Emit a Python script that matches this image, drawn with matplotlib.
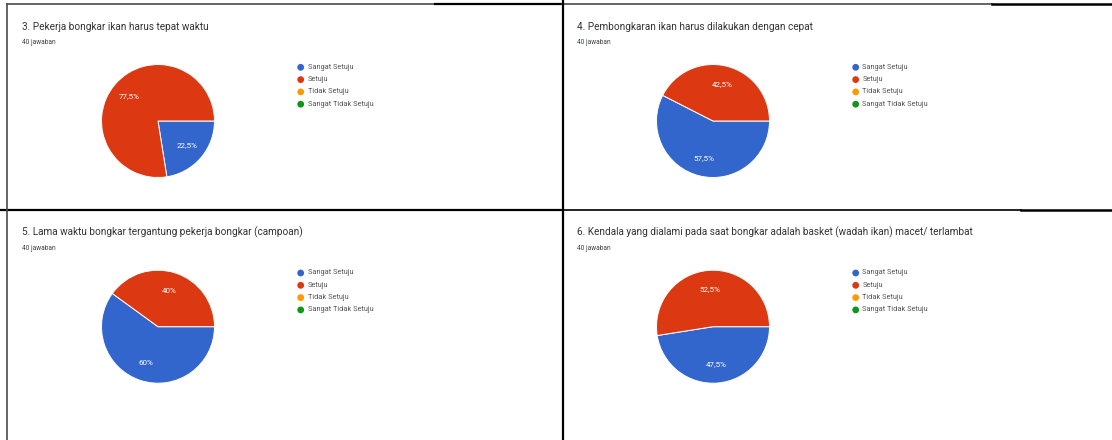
import matplotlib
matplotlib.use('Agg')
import matplotlib.pyplot as plt

plt.rcParams['font.family'] = ['Roboto', 'DejaVu Sans']

# canvas size in pixels (dpi 100)
W, H = 1112, 440

categories = ['Sangat Setuju', 'Setuju', 'Tidak Setuju', 'Sangat Tidak Setuju']
colors = ['#3366CC', '#DC3912', '#FF9900', '#109618']

questions = [
    '3. Pekerja bongkar ikan harus tepat waktu',
    '4. Pembongkaran ikan harus dilakukan dengan cepat',
    '5. Lama waktu bongkar tergantung pekerja bongkar (campoan)',
    '6. Kendala yang dialami pada saat bongkar adalah basket (wadah ikan) macet/ terlambat',
]
responses = 40

# percentages per answer, same order as categories
q3_pct = [22.5, 77.5, 0, 0]
q4_pct = [57.5, 42.5, 0, 0]
q5_pct = [60, 40, 0, 0]
q6_pct = [47.5, 52.5, 0, 0]
all_pct = [q3_pct, q4_pct, q5_pct, q6_pct]

# top-left corner of each card
origins = [(7, 4.3), (562, 4.3), (7, 210), (562, 210)]


def pct_label(p):
    s = f'{p:.1f}'.rstrip('0').rstrip('.')
    return s.replace('.', ',') + '%'


fig = plt.figure(figsize=(W / 100, H / 100), dpi=100)
fig.patch.set_facecolor('white')

bg = fig.add_axes([0, 0, 1, 1])
bg.set_xlim(0, W)
bg.set_ylim(H, 0)
bg.axis('off')

# card borders
gray, black = '#4a4a4a', '#000000'
bg.plot([7, 435], [4.3, 4.3], color=gray, lw=1.2)
bg.plot([435, 562], [4.3, 4.3], color=black, lw=1.6)
bg.plot([562, 992], [4.3, 4.3], color=gray, lw=1.2)
bg.plot([992, W], [4.3, 4.3], color=black, lw=1.8)
bg.plot([0, 562], [210, 210], color=black, lw=1.6)
bg.plot([562, 1021], [210, 210], color='#222222', lw=1.4)
bg.plot([1021, W], [210, 210], color=black, lw=1.8)
bg.plot([7.3, 7.3], [4.3, H], color=gray, lw=1.2)
bg.plot([562.5, 562.5], [0, H], color=black, lw=1.6)

R = 56.5
for (ox, oy), title, pct in zip(origins, questions, all_pct):
    bg.text(ox + 14.7, oy + 22.5, title, fontsize=7.2, color='#333333',
            va='center', ha='left')
    bg.text(ox + 14.7, oy + 38, f'{responses} jawaban', fontsize=4.7,
            color='#3c4043', va='center', ha='left')

    # legend with round markers
    for i, (cat, col) in enumerate(zip(categories, colors)):
        ly = oy + 63 + 12.3 * i
        bg.scatter([ox + 293.7], [ly], s=24, color=col, edgecolors='none')
        bg.text(ox + 300.5, ly, cat, fontsize=5.3, color='#555555',
                va='center', ha='left')

    cx, cy = ox + 151, oy + 116.7
    ax = fig.add_axes([(cx - R) / W, 1 - (cy + R) / H, 2 * R / W, 2 * R / H])
    vals = [v for v in pct if v > 0]
    cols = [c for v, c in zip(pct, colors) if v > 0]
    ax.pie(vals, colors=cols, startangle=0, counterclock=False,
           autopct=pct_label, pctdistance=0.67,
           wedgeprops=dict(edgecolor='white', linewidth=0.7),
           textprops=dict(color='white', fontsize=5.8))
    ax.set_xlim(-1, 1)
    ax.set_ylim(-1, 1)

fig.savefig('out.png', dpi=100, facecolor='white')
